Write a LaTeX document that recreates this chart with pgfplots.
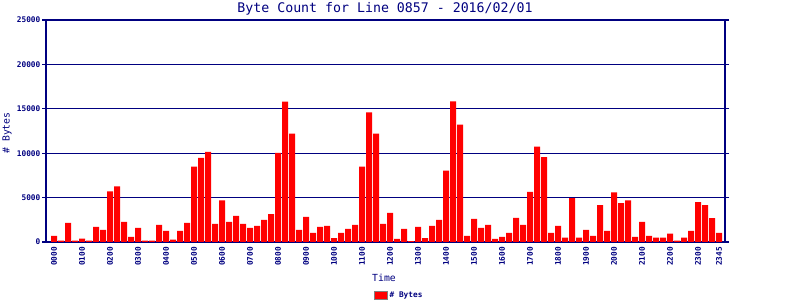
\documentclass[border=0pt]{standalone}
\usepackage{fontspec}
\setmainfont{DejaVu Sans Mono}
\usepackage{pgfplots}
\pgfplotsset{compat=1.18}
\usepackage{pgfplotstable}
\definecolor{navy}{RGB}{0,0,128}
\pgfplotstableread{
idx val
0 700
1 150
2 2150
3 150
4 370
5 150
6 1700
7 1370
8 5700
9 6260
10 2260
11 590
12 1590
13 150
14 150
15 1930
16 1260
17 260
18 1260
19 2150
20 8480
21 9480
22 10150
23 2040
24 4700
25 2260
26 2930
27 2040
28 1590
29 1810
30 2480
31 3150
32 10040
33 15800
34 12200
35 1360
36 2830
37 1020
38 1700
39 1810
40 450
41 1020
42 1470
43 1920
44 8480
45 14590
46 12210
47 2040
48 3280
49 340
50 1470
51 110
52 1700
53 450
54 1810
55 2490
56 8030
57 15830
58 13230
59 680
60 2600
61 1580
62 1920
63 340
64 570
65 1020
66 2710
67 1920
68 5650
69 10740
70 9550
71 1040
72 1810
73 480
74 4930
75 480
76 1370
77 700
78 4150
79 1260
80 5590
81 4370
82 4700
83 590
84 2260
85 700
86 480
87 480
88 930
89 150
90 480
91 1260
92 4480
93 4150
94 2700
95 1040
}\bytes
\begin{document}
\begin{tikzpicture}
\useasboundingbox (0,0) rectangle (800bp,300bp);
\begin{axis}[
  at={(46bp,58bp)}, anchor=south west,
  scale only axis, width=679bp, height=222bp,
  xmin=-1.15, xmax=95.85, ymin=0, ymax=25000,
  ybar, bar width=6bp, bar shift=0pt,
  axis line style={navy, line width=1.2bp},
  ymajorgrids, grid style={navy, line width=1.2bp},
  ytick={0,5000,10000,15000,20000,25000},
  scaled y ticks=false,
  /pgf/number format/assume math mode=true,
  /pgf/number format/set thousands separator={},
  xtick={0,4,8,12,16,20,24,28,32,36,40,44,48,52,56,60,64,68,72,76,80,84,88,92,95},
  xticklabels={0000,0100,0200,0300,0400,0500,0600,0700,0800,0900,1000,1100,1200,1300,1400,1500,1600,1700,1800,1900,2000,2100,2200,2300,2345},
  x tick label style={rotate=90, anchor=east, font=\fontsize{7.8}{8}\selectfont\bfseries, text=navy, inner sep=1bp},
  y tick label style={font=\fontsize{7.8}{8}\selectfont\bfseries, text=navy, inner sep=1.5bp},
  tick align=outside,
  xtick style={draw=none},
  ytick style={navy, line width=1.2bp},
  major tick length=4bp,
  legend style={at={(0.52,-0.239)}, anchor=center, draw=none, fill=none,
    font=\fontsize{7.8}{8}\selectfont\bfseries, text=navy, inner sep=0pt},
  legend image code/.code={\draw[fill=red, draw=gray, line width=1bp] (0bp,-4bp) rectangle (13bp,4bp);},
]
\addplot[fill=red, draw=none] table[x=idx, y=val] {\bytes};
\addlegendentry{\# Bytes}
\end{axis}
\node[text=navy, font=\fontsize{13.3}{14}\selectfont] at (385bp,291.5bp) {Byte Count for Line 0857 - 2016/02/01};
\node[text=navy, font=\fontsize{9.8}{10}\selectfont, rotate=90] at (7bp,167bp) {\# Bytes};
\node[text=navy, font=\fontsize{9.8}{10}\selectfont] at (384bp,22bp) {Time};
\end{tikzpicture}
\end{document}
